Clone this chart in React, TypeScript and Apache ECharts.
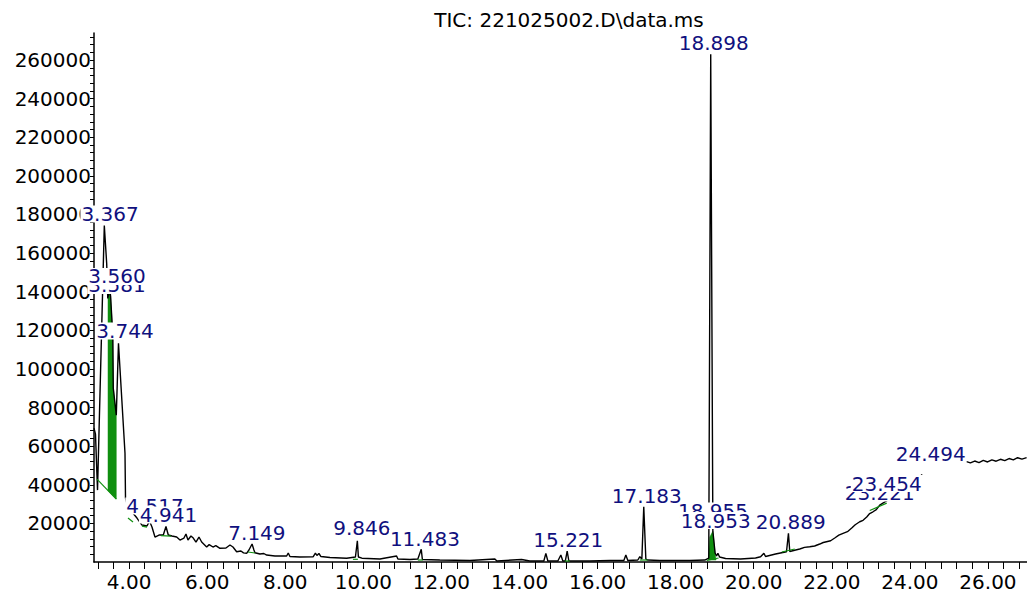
import React, { useEffect, useRef } from 'react';
import * as echarts from 'echarts';

const titleText = 'TIC: 221025002.D\\data.ms';

// retention time (min) of trace points
const traceTimes = [
  3.1, 3.138, 3.19, 3.364, 3.425, 3.453, 3.505, 3.525, 3.581, 3.594, 3.671, 3.727, 3.894, 3.907,
  3.971, 4.073, 4.201, 4.329, 4.457, 4.521, 4.585, 4.662, 4.765, 4.875, 4.944, 5.003, 5.097, 5.218,
  5.302, 5.405, 5.456, 5.507, 5.584, 5.643, 5.712, 5.789, 5.858, 5.986, 6.05, 6.147, 6.22, 6.327, 6.48, 6.583,
  6.66, 6.754, 6.864, 6.93, 7.01, 7.069, 7.149, 7.197, 7.223, 7.351, 7.45, 7.523, 7.735, 8.035, 8.076, 8.119,
  8.375, 8.716, 8.772, 8.81, 8.862, 8.913, 9.144, 9.571, 9.797, 9.846, 9.873, 9.963, 10.424, 10.851,
  10.885, 11.192, 11.396, 11.483, 11.512, 11.96, 12.729, 13.369, 13.42, 14.052, 14.265, 14.623,
  14.675, 14.726, 14.982, 15.059, 15.11, 15.174, 15.221, 15.264, 15.802, 16.314, 16.673, 16.724,
  16.775, 17.031, 17.082, 17.134, 17.183, 17.236, 17.287, 17.594, 18.362, 18.746, 18.848, 18.898,
  18.953, 19.01, 19.048, 19.082, 19.125, 19.279, 19.663, 20.047, 20.175, 20.26, 20.303, 20.559,
  20.839, 20.889, 20.923, 21.05, 21.179, 21.3, 21.435, 21.56, 21.691, 21.78, 21.863, 21.97, 22.075,
  22.18, 22.288, 22.4, 22.51, 22.6, 22.715, 22.8, 22.894, 22.97, 23.055, 23.14, 23.227, 23.432,
  23.739, 24.047, 24.278, 24.354, 24.763, 25.198, 25.28, 25.36, 25.45, 25.55, 25.66, 25.77, 25.88, 25.99,
  26.1, 26.21, 26.32, 26.43, 26.54, 26.65, 26.76, 26.87, 26.99
];

// abundance of trace points
const traceValues = [
  69300, 66200, 37240, 174300, 154640, 136540, 141200, 137580, 117400, 90000, 76030, 113270, 56370, 33100,
  27930, 25860, 22760, 19140, 18620, 21200, 18100, 12930, 13960, 13960, 18360, 13960, 13450, 12930,
  11380, 12410, 14480, 11380, 13450, 12410, 10340, 12930, 10340, 7760, 9000, 7760, 8500, 7090, 7240, 8790,
  7760, 5330, 5690, 4700, 4500, 6210, 9310, 6210, 4810, 4140, 4400, 3620, 3100, 3100, 4650, 2840,
  2590, 2740, 4650, 3360, 4400, 2840, 2330, 1910, 2590, 11000, 2590, 1970, 1550, 3100,
  1550, 1290, 1550, 6570, 1290, 1030, 780, 1550, 520, 1290, 520, 520,
  4500, 520, 520, 3620, 520, 520, 5690, 520, 520, 780, 780, 3620,
  780, 1030, 2740, 1550, 28600, 1550, 1030, 780, 780, 1030, 2070, 263000,
  16030, 4650, 3100, 4500, 2590, 1810, 1550, 2070, 2740, 4500, 2840, 4140,
  5330, 14840, 5430, 6100, 6720, 7600, 7910, 8300, 9310, 10100, 10500, 11000, 12410,
  13900, 14840, 15700, 17580, 19300, 20840, 21600, 23270, 25100, 26010, 27100, 29480, 32070,
  37240, 41500, 43960, 48600, 49300, 49650, 51700, 50900, 52000, 51300, 52300, 51500, 52600, 51800,
  52900, 52200, 53200, 52500, 53600, 52900, 54000, 53300, 54100
];

// integrated (filled) peak areas: [time, abundance] outline
const fillAreaEarly = [
  [3.459, 36930], [3.459, 136540], [3.505, 141200], [3.525, 137580], [3.581, 117400],
  [3.594, 90000], [3.671, 76030], [3.671, 32580]
];
const fillArea1895 = [
  [18.836, 1030], [18.875, 12900], [18.953, 16030], [19.01, 4650], [19.036, 1030]
];
const fillAreas = [fillAreaEarly, fillArea1895];

// integration baselines: [t1, abundance1, t2, abundance2]
const baselineSegments = [
  [3.176, 42930, 3.671, 32580],
  [3.971, 22760, 4.099, 20690],
  [4.329, 18620, 4.457, 18100],
  [4.816, 13700, 5.072, 13450],
  [7.044, 5170, 7.223, 4650],
  [9.733, 1400, 9.86, 1400],
  [11.396, 1030, 11.524, 1030],
  [15.16, 520, 15.29, 520],
  [17.08, 1030, 17.29, 1030],
  [18.797, 780, 19.1, 2070],
  [20.718, 5170, 21.051, 6720],
  [22.972, 26640, 23.407, 30510]
];

// peak labels partly covered by other labels
const backLabelTexts = ['3.581', '4.517', '9.846', '18.955', '23.221'];
const backLabelTimes = [3.689, 4.662, 9.963, 18.954, 23.227];
const backLabelValues = [143260, 28960, 17580, 26380, 35700];

// label whose tall box hides the trace under it
const midLabelTexts = ['24.494'];
const midLabelTimes = [24.534];
const midLabelValues = [55860];

// peak labels drawn on top
const frontLabelTexts = ['18.898', '3.367', '3.560', '3.744', '4.941', '7.149', '11.483', '15.221', '17.183', '18.953', '20.889', '23.454'];
const frontLabelTimes = [18.977, 3.51, 3.689, 3.894, 5.008, 7.274, 11.576, 15.25, 17.261, 19.028, 20.949, 23.407];
const frontLabelValues = [268900, 180200, 147900, 119700, 24310, 15000, 12150, 11640, 34390, 21460, 20950, 40600];

const xLabelValues = [4, 6, 8, 10, 12, 14, 16, 18, 20, 22, 24, 26];
const yLabelValues = [20000, 40000, 60000, 80000, 100000, 120000, 140000, 160000, 180000, 200000, 220000, 240000, 260000];

const xTickValues: number[] = [];
for (let k = 0; k <= 59; k++) xTickValues.push(Math.round((3.2 + 0.4 * k) * 100) / 100);
const yTickValues: number[] = [];
for (let k = 1; k <= 68; k++) yTickValues.push(k * 4000);

const FONT = '"DejaVu Sans", sans-serif';
const NAVY = '#10107e';
const GREEN = '#0f8f0f';

function labelStyle(padding: number[] = [1, 1, 1, 1]) {
  return {
    show: true,
    position: 'inside',
    formatter: (p: any) => p.data.name,
    color: NAVY,
    fontFamily: FONT,
    fontSize: 20,
    lineHeight: 15,
    backgroundColor: '#ffffff',
    padding,
    opacity: 1
  };
}

function labelSeries(name: string, z: number, texts: string[], times: number[], values: number[], padding?: number[]) {
  return {
    type: 'scatter',
    name,
    z,
    silent: true,
    symbolSize: 1,
    itemStyle: { color: 'rgba(0,0,0,0)', opacity: 1 },
    data: texts.map((s, i) => ({ name: s, value: [times[i], values[i]] })),
    label: labelStyle(padding)
  };
}

export default function App() {
  const ref = useRef<HTMLDivElement>(null);

  useEffect(() => {
    if (!ref.current) return;
    const chart = echarts.init(ref.current, undefined, { renderer: 'svg' });

    const traceData = traceTimes.map((t, i) => [t, traceValues[i]]);

    chart.setOption({
      animation: false,
      backgroundColor: '#ffffff',
      grid: { left: 94, right: 0, top: 33, bottom: 31, containLabel: false },
      graphic: [
        {
          type: 'text',
          x: 569,
          y: 20,
          style: {
            text: titleText,
            fill: '#000',
            fontFamily: FONT,
            fontSize: 20,
            align: 'center',
            verticalAlign: 'middle'
          }
        }
      ],
      xAxis: {
        type: 'value',
        min: 3.1,
        max: 27.0,
        axisLine: { show: true, onZero: false, lineStyle: { color: '#000', width: 1.5 } },
        axisTick: { show: true, customValues: xTickValues, length: 7, lineStyle: { color: '#000', width: 1 } },
        axisLabel: {
          customValues: xLabelValues,
          formatter: (v: number) => v.toFixed(2),
          color: '#000',
          fontFamily: FONT,
          fontSize: 20,
          margin: 10
        },
        splitLine: { show: false }
      },
      yAxis: {
        type: 'value',
        min: 0,
        max: 274000,
        axisLine: { show: true, lineStyle: { color: '#000', width: 1.5 } },
        axisTick: { show: true, customValues: yTickValues, length: 4, lineStyle: { color: '#000', width: 1 } },
        axisLabel: {
          customValues: yLabelValues,
          formatter: (v: number) => String(v),
          color: '#000',
          fontFamily: FONT,
          fontSize: 20,
          margin: 3
        },
        splitLine: { show: false }
      },
      series: [
        {
          type: 'custom',
          name: 'fills',
          z: 1,
          silent: true,
          clip: true,
          data: fillAreas.map((poly, i) => [poly[0][0], poly[0][1], i]),
          encode: { x: 0, y: 1 },
          renderItem: (params: any, api: any) => {
            const poly = fillAreas[api.value(2)];
            return {
              type: 'polygon',
              shape: { points: poly.map((p) => api.coord(p)) },
              style: { fill: GREEN, stroke: GREEN, lineWidth: 0.5 }
            };
          }
        },
        {
          type: 'line',
          name: 'TIC',
          z: 2,
          data: traceData,
          showSymbol: false,
          symbol: 'none',
          clip: true,
          lineStyle: { color: '#000', width: 1.4 },
          silent: true
        },
        {
          type: 'custom',
          name: 'baselines',
          z: 3,
          silent: true,
          clip: true,
          data: baselineSegments,
          encode: { x: [0, 2], y: [1, 3] },
          renderItem: (params: any, api: any) => {
            const a = api.coord([api.value(0), api.value(1)]);
            const b = api.coord([api.value(2), api.value(3)]);
            return {
              type: 'line',
              shape: { x1: a[0], y1: a[1], x2: b[0], y2: b[1] },
              style: { stroke: GREEN, lineWidth: 1.2 }
            };
          }
        },
        labelSeries('backLabels', 8, backLabelTexts, backLabelTimes, backLabelValues),
        labelSeries('midLabels', 9, midLabelTexts, midLabelTimes, midLabelValues, [1, 1, 24, 1]),
        labelSeries('frontLabels', 10, frontLabelTexts, frontLabelTimes, frontLabelValues)
      ]
    });

    return () => chart.dispose();
  }, []);

  return (
    <div
      ref={ref}
      style={{ position: 'absolute', left: 0, top: 0, width: 1027, height: 593, background: '#fff' }}
    />
  );
}
